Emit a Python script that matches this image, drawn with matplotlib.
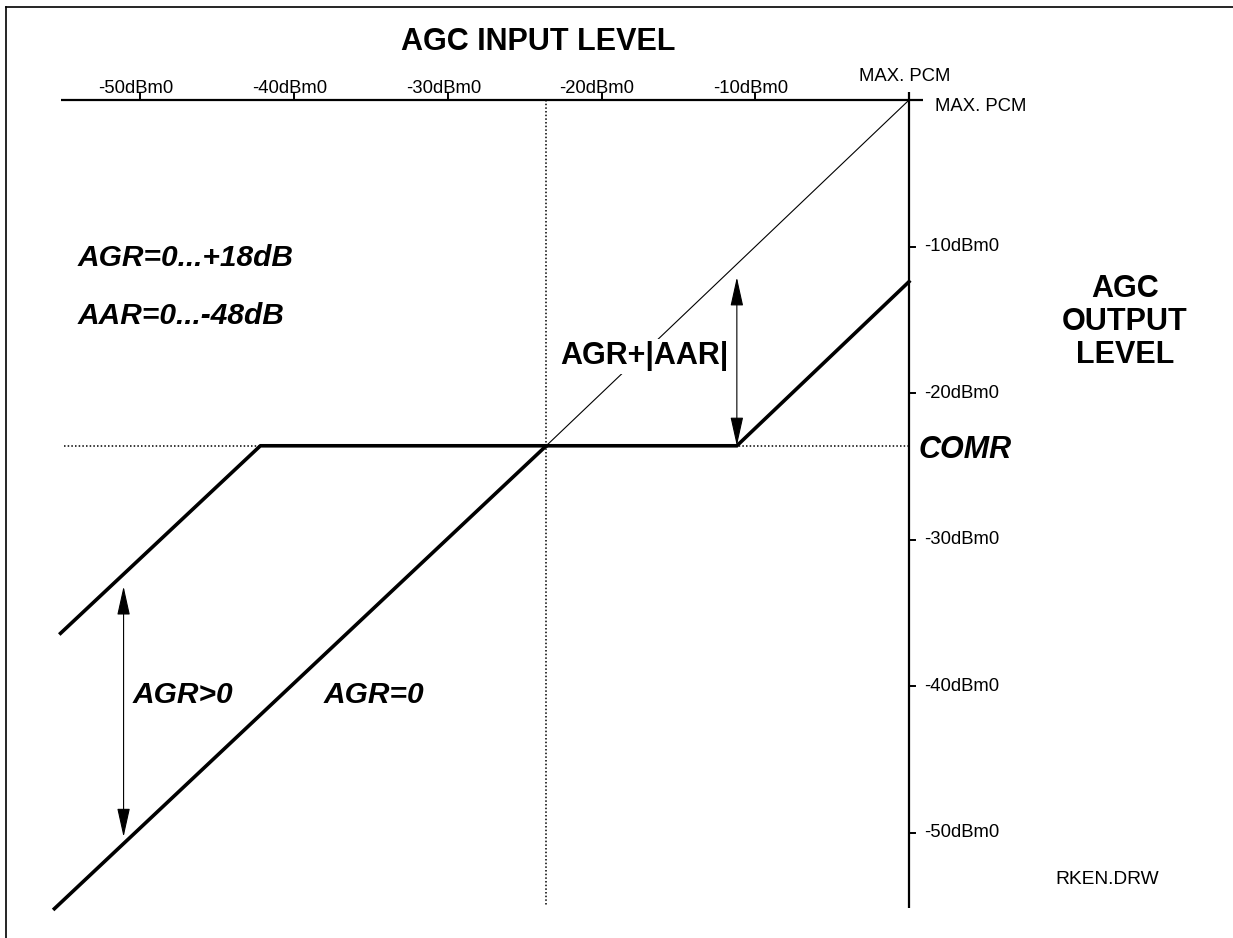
import numpy as np
import matplotlib
matplotlib.use("Agg")
from matplotlib import pyplot as plt
from matplotlib.lines import Line2D

plt.rcParams['font.family'] = ['Liberation Sans', 'DejaVu Sans']

# levels in dBm0, 0 = MAX. PCM
x_ticks = [-50, -40, -30, -20, -10]
x_tick_labels = ["-50dBm0", "-40dBm0", "-30dBm0", "-20dBm0", "-10dBm0"]
y_ticks = [-10, -20, -30, -40, -50]
y_tick_labels = ["-10dBm0", "-20dBm0", "-30dBm0", "-40dBm0", "-50dBm0"]

comr = -23.6
# AGR=0 characteristic (input -> output)
agr0_in = [-55.6, -23.6, -11.2, 0.0]
agr0_out = [-55.2, -23.6, -23.6, -12.4]
# AGR>0 characteristic
agr_in = [-55.2, -42.2]
agr_out = [-36.4, -23.6]
# unity line
unity_in = [-23.6, 0.0]
unity_out = [-23.6, 0.0]

fig = plt.figure(figsize=(12.33, 9.38), dpi=100)
ax = fig.add_axes([0, 0, 1, 1])
ax.set_xlim(-59.14, 21.08)
ax.set_ylim(-57.2, 6.83)
ax.axis("off")

# frame (left and top only)
fig.add_artist(Line2D([0.005, 0.005], [0, 0.9925], color="black", lw=1.2))
fig.add_artist(Line2D([0.005, 1], [0.9925, 0.9925], color="black", lw=1.2))

# axes lines
ax.plot([-55.2, 0.9], [0, 0], color="black", lw=1.6, solid_capstyle="butt")
ax.plot([0, 0], [0.55, -55.15], color="black", lw=1.6, solid_capstyle="butt")
for x, lab in zip(x_ticks, x_tick_labels):
    ax.plot([x, x], [0, 0.42], color="black", lw=1.4)
    ax.text(x - 0.3, 0.45, lab, ha="center", va="baseline", fontsize=13.3)
for y, lab in zip(y_ticks, y_tick_labels):
    ax.plot([0, 0.4], [y, y], color="black", lw=1.4)
    ax.text(1.0, y, lab, ha="left", va="center", fontsize=13.3)
ax.text(-0.26, 1.64, "MAX. PCM", ha="center", va="center", fontsize=13.3)
ax.text(1.7, -0.41, "MAX. PCM", ha="left", va="center", fontsize=13.3)

# dotted guides
dot = (0, (1, 1.4))
ax.plot([-55.0, 0], [comr, comr], color="black", lw=1.1, linestyle=dot)
ax.plot([comr, comr], [0, -55.0], color="black", lw=1.1, linestyle=dot)

# curves
ax.plot(unity_in, unity_out, color="black", lw=0.8)
ax.plot(agr0_in, agr0_out, color="black", lw=2.6, solid_joinstyle="miter")
ax.plot(agr_in + [agr0_in[1]], agr_out + [agr0_out[1]], color="black", lw=2.6)

# double arrows
arrow = dict(arrowstyle="<|-|>,head_length=1.8,head_width=0.4",
             color="black", lw=0.8, shrinkA=0, shrinkB=0, mutation_scale=10)
ax.annotate("", xy=(-11.2, -12.1), xytext=(-11.2, -23.6), arrowprops=arrow)
ax.annotate("", xy=(-51.1, -33.2), xytext=(-51.1, -50.3), arrowprops=arrow)

# labels
ax.text(-24.1, 3.96, "AGC INPUT LEVEL", ha="center", va="center",
        fontsize=22, fontweight="bold")
ax.text(14.05, -15.15, "AGC\nOUTPUT\nLEVEL", ha="center", va="center",
        fontsize=22, fontweight="bold", linespacing=1.12)
ax.text(0.65, -23.9, "COMR", ha="left", va="center", fontsize=22,
        fontweight="bold", fontstyle="italic")
ax.text(9.5, -53.2, "RKEN.DRW", ha="left", va="center", fontsize=13.8)
ax.text(-54.07, -10.8, "AGR=0...+18dB", ha="left", va="center", fontsize=21.5,
        fontweight="bold", fontstyle="italic")
ax.text(-54.07, -14.74, "AAR=0...-48dB", ha="left", va="center", fontsize=21.5,
        fontweight="bold", fontstyle="italic")
ax.text(-17.2, -17.5, "AGR+|AAR|", ha="center", va="center", fontsize=22,
        fontweight="bold",
        bbox=dict(facecolor="white", edgecolor="none", pad=2))
ax.text(-50.5, -40.6, "AGR>0", ha="left", va="center", fontsize=21.5,
        fontweight="bold", fontstyle="italic")
ax.text(-38.1, -40.6, "AGR=0", ha="left", va="center", fontsize=21.5,
        fontweight="bold", fontstyle="italic")

fig.savefig("out.png", dpi=100)
